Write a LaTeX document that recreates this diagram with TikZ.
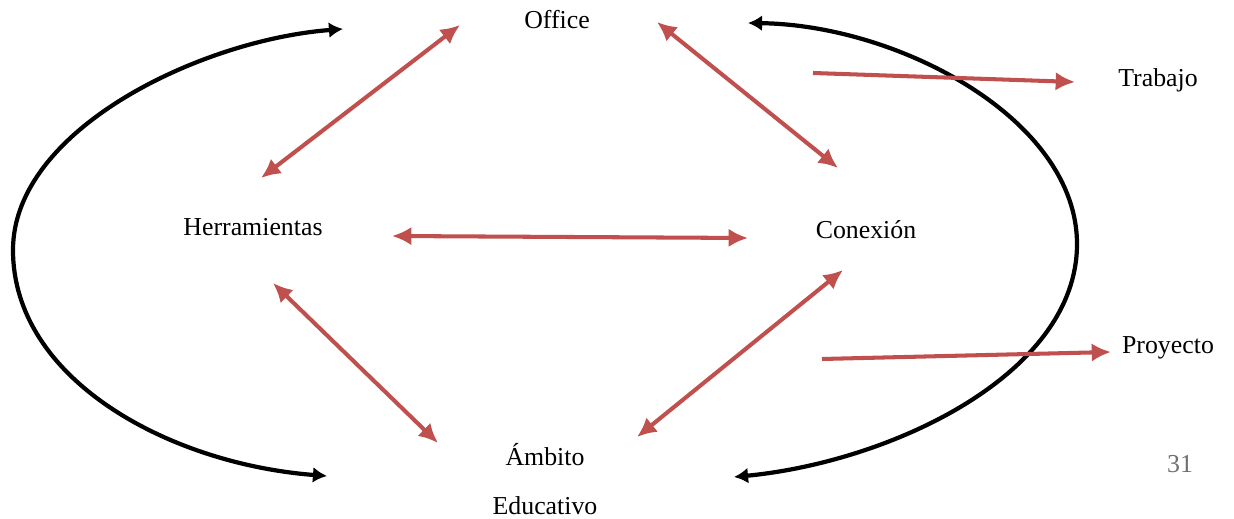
\documentclass[tikz,border=0pt]{standalone}
\usepackage{fontspec}
\setmainfont{Liberation Serif}
\usetikzlibrary{arrows.meta}
\definecolor{rojo}{HTML}{C0504D}
\definecolor{gris}{HTML}{707070}
\begin{document}
\begin{tikzpicture}[x=0.02cm,y=-0.02cm,
  txt/.style={anchor=base,inner sep=0pt,font=\fontsize{14.7}{17}\selectfont},
  flecha/.style={draw=rojo,line width=2.3pt,arrows={-Latex[length=11pt,width=10.5pt]}},
  dflecha/.style={flecha,arrows={Latex[length=11pt,width=10.5pt]-Latex[length=11pt,width=10.5pt]}},
  curva/.style={draw=black,line width=2.4pt,arrows={Latex[length=8pt,width=9pt]-Latex[length=8pt,width=9pt]}}]

\useasboundingbox[fill=white] (0,0) rectangle (1234,519);

\node[txt] (office) at (557,29) {Office};
\node[txt] (trabajo) at (1158,87) {Trabajo};
\node[txt] (herr) at (253,236) {Herramientas};
\node[txt] (conex) at (866,239) {Conexión};
\node[txt] (proy) at (1168,354) {Proyecto};
\node[txt] (ambito) at (545,466) {Ámbito};
\node[txt] (educ) at (545,515) {Educativo};
\node[txt,text=gris] (pag) at (1180,473) {31};

\coordinate (lsup) at (343,29);
\coordinate (linf) at (327,476);
\coordinate (rsup) at (748,23);
\coordinate (rinf) at (734,477);

\coordinate (oh1) at (460,25);
\coordinate (oh2) at (261,178);
\coordinate (oc1) at (657,22);
\coordinate (oc2) at (838,168);
\coordinate (hc1) at (392,236);
\coordinate (hc2) at (748,238);
\coordinate (ha1) at (273,283);
\coordinate (ha2) at (438,443);
\coordinate (ca1) at (843,270);
\coordinate (ca2) at (637,437);
\coordinate (tr1) at (813,73);
\coordinate (tr2) at (1075,82);
\coordinate (pr1) at (822,359);
\coordinate (pr2) at (1111,352);

\draw[curva] (lsup) .. controls (200,40) and (13,130) .. (13,250)
  .. controls (13,380) and (170,464) .. (linf);
\draw[curva] (rsup) .. controls (900,25) and (1077,120) .. (1077,244)
  .. controls (1077,375) and (890,462) .. (rinf);

\draw[dflecha] (oh2) -- (oh1);
\draw[dflecha] (oc1) -- (oc2);
\draw[dflecha] (hc1) -- (hc2);
\draw[dflecha] (ha1) -- (ha2);
\draw[dflecha] (ca1) -- (ca2);
\draw[flecha] (tr1) -- (tr2);
\draw[flecha] (pr1) -- (pr2);

\end{tikzpicture}
\end{document}
